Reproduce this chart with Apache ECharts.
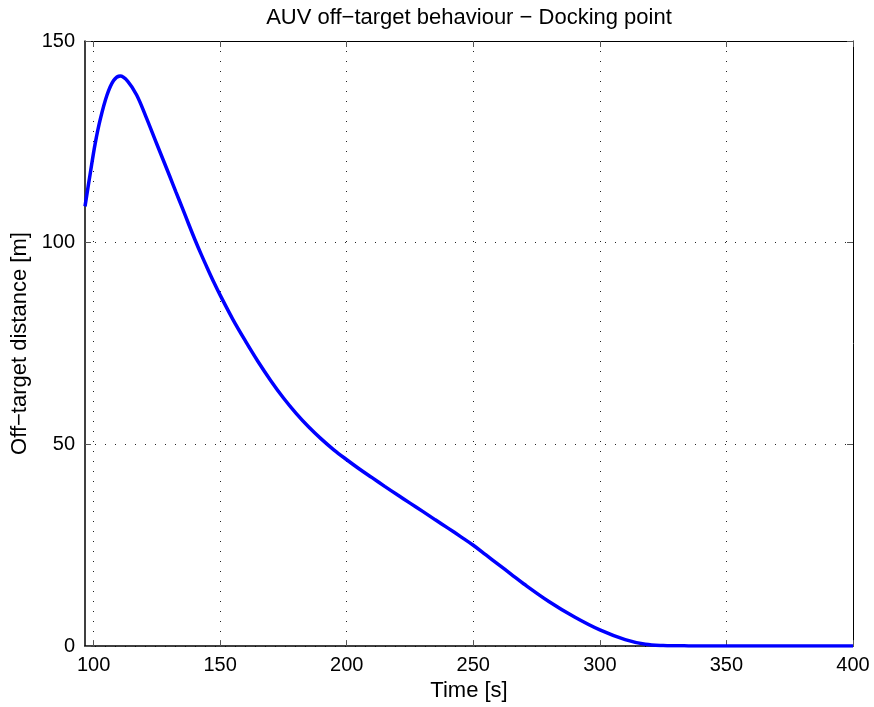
<!DOCTYPE html>
<html>
<head>
<meta charset="utf-8">
<script src="https://cdn.jsdelivr.net/npm/echarts@6/dist/echarts.min.js"></script>
<style>html,body{margin:0;padding:0;background:#fff}#c{width:874px;height:707px}</style>
</head>
<body>
<div id="c"></div>
<script>
const titleText = "AUV off\u2212target behaviour \u2212 Docking point";
const xName = "Time [s]";
const yName = "Off\u2212target distance [m]";
const xTicks = [100, 150, 200, 250, 300, 350, 400];
const yTicks = [0, 50, 100, 150];
const timeS = [96.6, 98.7, 100.6, 102.6, 105.3, 107.9, 110.5, 113.5, 117, 120.5, 125, 130, 132.5, 135, 137.5, 140, 142.5, 145, 147.5, 150, 155, 160, 165, 170, 175, 180, 185, 190, 195, 200, 205, 210, 215, 220, 225, 230, 235, 240, 245, 250, 255, 260, 265, 270, 280, 290, 300, 310, 318, 325, 335, 350, 400];
const distance = [109, 117.3, 124.5, 130.5, 136.6, 140.2, 141.3, 140.0, 136.6, 131.5, 124.4, 116.6, 112.6, 108.7, 104.7, 100.8, 97.1, 93.6, 90.2, 87.0, 81.0, 75.6, 70.5, 65.8, 61.5, 57.7, 54.3, 51.3, 48.6, 46.2, 43.9, 41.75, 39.6, 37.5, 35.45, 33.4, 31.3, 29.25, 27.15, 25.0, 22.6, 20.2, 17.8, 15.4, 11.0, 7.2, 4.0, 1.6, 0.45, 0.15, 0.05, 0.02, 0.02];

const xMin = 96.6, xMax = 400, yMin = 0, yMax = 150;
const font = "Liberation Sans, Arial, Helvetica, sans-serif";
const gridLine = {show: true, lineStyle: {color: '#222', width: 1, type: [1, 9]}};
const lineData = timeS.map((t, i) => [t, distance[i]]);

const chart = echarts.init(document.getElementById('c'));
chart.setOption({
  animation: false,
  backgroundColor: '#fff',
  title: {
    text: titleText, left: 464, top: 2, textAlign: 'center',
    textStyle: {fontFamily: font, fontSize: 22, fontWeight: 'normal', color: '#000'}
  },
  grid: {left: 85, right: 21, top: 41, bottom: 59, containLabel: false},
  xAxis: [{
    type: 'value', min: xMin, max: xMax, position: 'bottom',
    name: xName, nameLocation: 'middle', nameGap: 32,
    nameTextStyle: {fontFamily: font, fontSize: 22, color: '#000'},
    axisLine: {show: true, onZero: false, lineStyle: {color: '#000', width: 1.5}},
    axisTick: {show: true, inside: true, length: 6, customValues: xTicks, lineStyle: {color: '#555'}},
    axisLabel: {customValues: xTicks, fontFamily: font, fontSize: 20, color: '#000', margin: 9},
    splitLine: gridLine
  }, {
    type: 'value', min: xMin, max: xMax, position: 'top',
    axisLine: {show: true, onZero: false, lineStyle: {color: '#000', width: 1}},
    axisTick: {show: true, inside: true, length: 6, customValues: xTicks, lineStyle: {color: '#555'}},
    axisLabel: {show: false},
    splitLine: {show: false}
  }],
  yAxis: [{
    type: 'value', min: yMin, max: yMax, interval: 50, position: 'left',
    name: yName, nameLocation: 'middle', nameGap: 54,
    nameTextStyle: {fontFamily: font, fontSize: 22, color: '#000'},
    axisLine: {show: true, onZero: false, lineStyle: {color: '#000', width: 1.5}},
    axisTick: {show: true, inside: true, length: 6, lineStyle: {color: '#555'}},
    axisLabel: {fontFamily: font, fontSize: 20, color: '#000', margin: 10},
    splitLine: gridLine
  }, {
    type: 'value', min: yMin, max: yMax, interval: 50, position: 'right',
    axisLine: {show: true, onZero: false, lineStyle: {color: '#000', width: 1}},
    axisTick: {show: true, inside: true, length: 6, lineStyle: {color: '#555'}},
    axisLabel: {show: false},
    splitLine: {show: false}
  }],
  series: [{
    type: 'line', xAxisIndex: 0, yAxisIndex: 0,
    data: lineData, smooth: 0.35, showSymbol: false, symbol: 'none',
    lineStyle: {color: '#0000ff', width: 3.5},
    clip: true
  }]
});
</script>
</body>
</html>
